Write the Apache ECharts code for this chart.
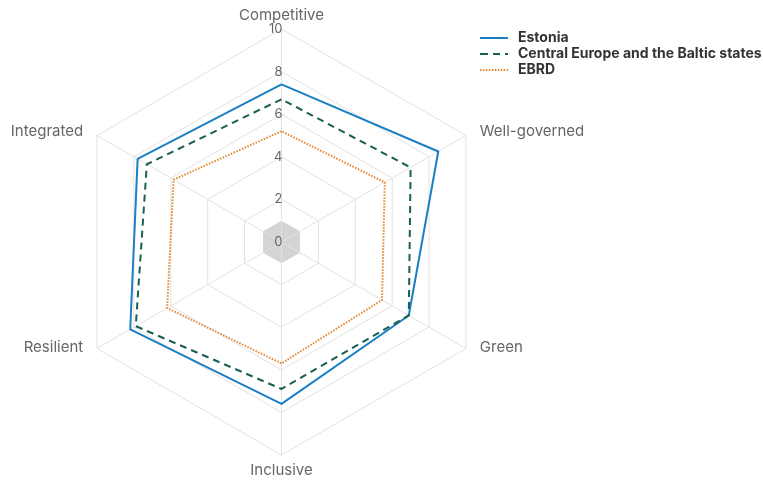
<!DOCTYPE html>
<html>
<head>
<meta charset="utf-8">
<script src="https://cdn.jsdelivr.net/npm/echarts@6/dist/echarts.min.js"></script>
<style>
  html, body { margin: 0; padding: 0; background: #fff; }
  #chart { width: 763px; height: 481px; }
</style>
</head>
<body>
<div id="chart"></div>
<script>
// indicators, clockwise from the top
let indicators = ['Competitive', 'Well-governed', 'Green', 'Inclusive', 'Resilient', 'Integrated'];
let axisMax = 10;

let estonia = [7.4, 8.5, 6.9, 7.6, 8.2, 7.8];
let centralEurope = [6.7, 7.0, 6.9, 6.9, 7.9, 7.3];
let ebrd = [5.2, 5.6, 5.45, 5.7, 6.2, 5.85];

let seriesNames = ['Estonia', 'Central Europe and the Baltic states', 'EBRD'];

// echarts radar runs counter-clockwise, so reverse everything after the first axis
let order = [0, 5, 4, 3, 2, 1];
function reorder(arr) {
    return order.map(function (i) { return arr[i]; });
}

// legend icons drawn as filled paths so they look like the line styles
let iconSolid = 'path://M0,0h28v2h-28z';
let iconDashed = 'path://M0,0h8v2h-8z M13,0h7v2h-7z M25,0h3v2h-3z';
let dots = '';
for (let x = 0; x < 28; x += 3) {
    dots += 'M' + x + ',0h1.5v2h-1.5z ';
}
let iconDotted = 'path://' + dots;

let font = 'Inter, "Noto Sans", sans-serif';

let myChart = echarts.init(document.getElementById('chart'));

let areaColors = ['#d4d4d4'];
for (let i = 1; i < 10; i++) areaColors.push('rgba(0,0,0,0)');

// name placement per axis (original clockwise order)
let nameGaps = [5, 16, 16, 8, 16, 16];
let nameRich = ['n', 'up', 'down', 'n', 'down', 'up'];

let indicatorList = reorder(indicators.map(function (name, i) {
    let ind = { name: name, min: 0, max: axisMax, nameGap: nameGaps[i] };
    if (i === 0) {
        ind.axisLabel = {
            show: true,
            margin: -1,
            color: '#666',
            fontFamily: font,
            fontSize: 13,
            formatter: function (v) { return v % 2 === 0 ? v : ''; }
        };
    }
    return ind;
}));

let option = {
    animation: false,
    legend: {
        orient: 'vertical',
        left: 480,
        top: 31,
        padding: 0,
        itemWidth: 28,
        itemHeight: 2,
        itemGap: 2,
        textStyle: {
            fontFamily: font,
            fontSize: 14,
            fontWeight: 'bold',
            color: '#333',
            padding: [0, 0, 0, 5]
        },
        data: [
            { name: seriesNames[0], icon: iconSolid },
            { name: seriesNames[1], icon: iconDashed },
            { name: seriesNames[2], icon: iconDotted }
        ]
    },
    radar: {
        center: [281.5, 242],
        radius: 213,
        startAngle: 90,
        splitNumber: 10,
        shape: 'polygon',
        axisName: {
            color: '#666',
            fontFamily: font,
            fontSize: 15,
            formatter: function (name) {
                let i = indicators.indexOf(name);
                return '{' + nameRich[i] + '|' + name + '}';
            },
            rich: {
                n: { color: '#666', fontFamily: font, fontSize: 15 },
                up: { color: '#666', fontFamily: font, fontSize: 15, padding: [8, 0, 0, 0] },
                down: { color: '#666', fontFamily: font, fontSize: 15, padding: [0, 0, 18, 0] }
            }
        },
        indicator: indicatorList,
        axisLabel: { show: false },
        axisTick: { show: false },
        axisLine: { lineStyle: { color: '#e2e2e2', width: 1 } },
        splitLine: { lineStyle: { color: ['#e2e2e2', 'rgba(0,0,0,0)'], width: 1 } },
        splitArea: { show: true, areaStyle: { color: areaColors } }
    },
    series: [{
        type: 'radar',
        symbol: 'none',
        data: [
            {
                name: seriesNames[0],
                value: reorder(estonia),
                lineStyle: { color: '#1a7fc3', width: 2, type: 'solid' },
                itemStyle: { color: '#1a7fc3' }
            },
            {
                name: seriesNames[1],
                value: reorder(centralEurope),
                lineStyle: { color: '#1b5e52', width: 2, type: [7, 5] },
                itemStyle: { color: '#1b5e52' }
            },
            {
                name: seriesNames[2],
                value: reorder(ebrd),
                lineStyle: { color: '#e5852f', width: 2, type: [1.5, 1.5] },
                itemStyle: { color: '#e5852f' }
            }
        ]
    }]
};

myChart.setOption(option);
</script>
</body>
</html>
